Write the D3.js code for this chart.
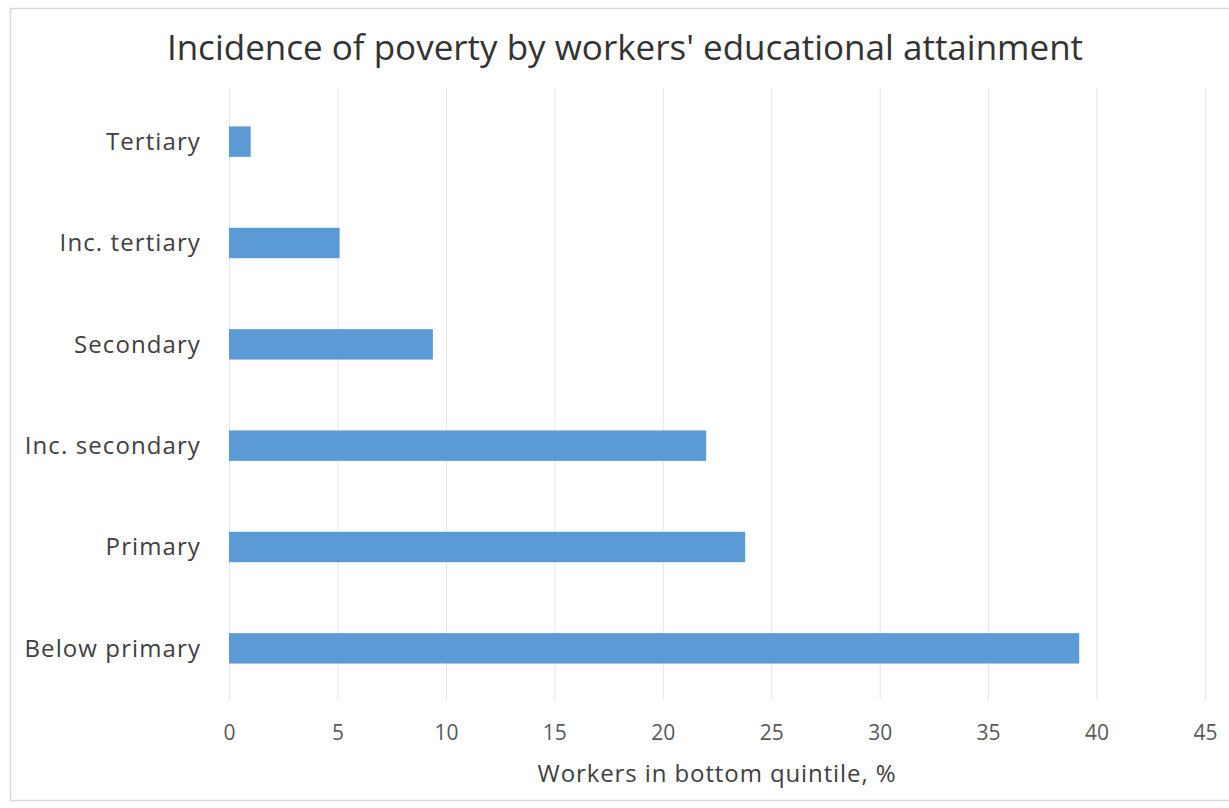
<!DOCTYPE html>
<html>
<head>
<meta charset="utf-8">
<script src="https://cdn.jsdelivr.net/npm/d3@7"></script>
<style>
  html, body { margin: 0; padding: 0; background: #ffffff; }
  svg { display: block; font-family: "Open Sans", "Noto Sans", sans-serif; }
</style>
</head>
<body>
<svg id="chart" width="1229" height="808"></svg>
<script>
// Education levels, top to bottom
const categories = ["Tertiary", "Inc. tertiary", "Secondary", "Inc. secondary", "Primary", "Below primary"];
// Share of workers in the bottom income quintile, %
const values = [1.0, 5.1, 9.4, 22.0, 23.8, 39.2];
const xTicks = [0, 5, 10, 15, 20, 25, 30, 35, 40, 45];

const title = "Incidence of poverty by workers' educational attainment";
const xTitle = "Workers in bottom quintile, %";

const W = 1229, H = 808;
const margin = { top: 91, left: 229 };
const plotW = 1205 - margin.left;
const plotH = 699 - margin.top;

const svg = d3.select("#chart");

// outer chart frame
svg.append("rect")
  .attr("x", 10.5).attr("y", 8.5)
  .attr("width", W + 10).attr("height", 792)
  .attr("fill", "#ffffff")
  .attr("stroke", "#d9d9d9").attr("stroke-width", 1.5);

const x = d3.scaleLinear().domain([0, 45]).range([0, plotW]);
const y = d3.scaleBand().domain(categories).range([0, plotH]).paddingInner(0.7).paddingOuter(0.35);

const g = svg.append("g").attr("transform", `translate(${margin.left},${margin.top})`);

// vertical gridlines
g.append("g")
  .selectAll("line")
  .data(xTicks)
  .join("line")
  .attr("x1", d => x(d) + 0.5).attr("x2", d => x(d) + 0.5)
  .attr("y1", -3).attr("y2", plotH + 1)
  .attr("stroke", "#e4e4e4").attr("stroke-width", 1);

// bars
g.append("g")
  .selectAll("rect")
  .data(values)
  .join("rect")
  .attr("x", x(0))
  .attr("y", (d, i) => y(categories[i]))
  .attr("width", d => x(d) - x(0))
  .attr("height", y.bandwidth())
  .attr("fill", "#5b9bd5");

// x axis tick labels
const xAxis = d3.axisBottom(x).tickValues(xTicks).tickSize(0).tickPadding(0);
const xg = g.append("g").attr("transform", `translate(0,${plotH})`).call(xAxis);
xg.select(".domain").remove();
xg.selectAll("text")
  .attr("y", 34)
  .attr("dy", "0.35em")
  .attr("font-size", 21)
  .attr("font-family", "Open Sans, Noto Sans, sans-serif")
  .attr("fill", "#595959");

// category labels
const yAxis = d3.axisLeft(y).tickSize(0).tickPadding(28);
const yg = g.append("g").call(yAxis);
yg.select(".domain").remove();
yg.selectAll("text")
  .attr("dy", "0.35em")
  .attr("font-size", 24)
  .attr("letter-spacing", 1.1)
  .attr("font-family", "Open Sans, Noto Sans, sans-serif")
  .attr("fill", "#404040");

// title
svg.append("text")
  .attr("x", 625).attr("y", 48)
  .attr("dy", "0.35em")
  .attr("text-anchor", "middle")
  .attr("font-size", 35)
  .attr("fill", "#333333")
  .text(title);

// x axis title
svg.append("text")
  .attr("x", margin.left + plotW / 2).attr("y", 774)
  .attr("dy", "0.35em")
  .attr("text-anchor", "middle")
  .attr("font-size", 24)
  .attr("letter-spacing", 0.9)
  .attr("fill", "#404040")
  .text(xTitle);
</script>
</body>
</html>
